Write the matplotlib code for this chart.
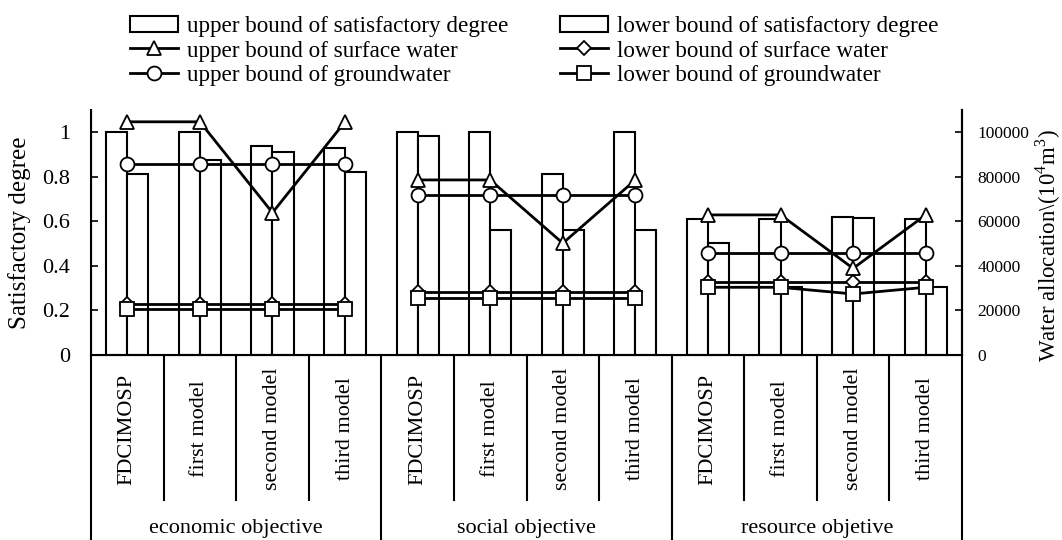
import matplotlib
matplotlib.use("Agg")
import matplotlib.pyplot as plt
import matplotlib.transforms as mtransforms
from matplotlib.patches import Patch
from matplotlib.lines import Line2D
import numpy as np

plt.rcParams['font.family'] = ['Liberation Serif', 'DejaVu Serif']
plt.rcParams['mathtext.fontset'] = 'custom'
plt.rcParams['mathtext.rm'] = 'Liberation Serif'

# data
groups = ['economic objective', 'social objective', 'resource objetive']
models = ['FDCIMOSP', 'first model', 'second model', 'third model']

sat_upper = [1.0, 1.0, 0.94, 0.931,
             1.0, 1.0, 0.811, 1.0,
             0.611, 0.611, 0.621, 0.611]
sat_lower = [0.811, 0.874, 0.913, 0.823,
             0.982, 0.561, 0.561, 0.561,
             0.502, 0.307, 0.614, 0.307]

surface_upper = [104700, 104700, 63900, 104700,
                 78600, 78600, 50200, 78600,
                 62900, 62900, 38900, 62900]
surface_lower = [22900, 22900, 22900, 22900,
                 28400, 28400, 28400, 28400,
                 32900, 32900, 32900, 32900]
ground_upper = [85600, 85600, 85600, 85600,
                71800, 71800, 71800, 71800,
                45700, 45700, 45700, 45700]
ground_lower = [20700, 20700, 20700, 20700,
                25500, 25500, 25500, 25500,
                30400, 30400, 27400, 30400]

fig = plt.figure(figsize=(10.62, 5.40), dpi=100)
ax = fig.add_axes([91 / 1062, 1 - 355 / 540, 871 / 1062, 245 / 540])

x = np.arange(len(sat_upper))
w = 0.29
ax.bar(x - w / 2, sat_upper, width=w, color='white', edgecolor='black', linewidth=1.5)
ax.bar(x + w / 2, sat_lower, width=w, color='white', edgecolor='black', linewidth=1.5)
ax.set_xlim(-0.5, 11.5)
ax.set_ylim(0, 1.1)
ax.set_yticks([0, 0.2, 0.4, 0.6, 0.8, 1.0])
ax.set_yticklabels(['0', '0.2', '0.4', '0.6', '0.8', '1'])
ax.tick_params(axis='y', direction='in', labelsize=16, width=1.2, length=5, pad=15)
ax.set_xticks([])
ax.spines['top'].set_visible(False)
for s in ['left', 'right', 'bottom']:
    ax.spines[s].set_linewidth(1.5)

ax2 = ax.twinx()
ax2.set_ylim(0, 110000)
ax2.set_yticks(range(0, 100001, 20000))
ax2.tick_params(axis='y', direction='in', labelsize=12.5, width=1.2, length=5, pad=11)
ax2.spines['top'].set_visible(False)
ax2.spines['right'].set_linewidth(1.5)

# axis titles
fig.text(20 / 1062, 1 - 232.5 / 540, 'Satisfactory degree', rotation=90,
         ha='center', va='center', fontsize=18)
fig.text(1048 / 1062, 1 - 246 / 540, 'Water allocation\\(10$^4$m$^3$)', rotation=90,
         ha='center', va='center', fontsize=16.5)

series = [
    (surface_upper, '^', 10),
    (surface_lower, 'D', 7),
    (ground_upper, 'o', 10),
    (ground_lower, 's', 10),
]
for vals, mk, ms in series:
    for g in range(3):
        idx = slice(g * 4, g * 4 + 4)
        ax2.plot(x[idx], vals[idx], color='black', lw=2, marker=mk,
                 markersize=ms, markerfacecolor='white',
                 markeredgecolor='black', markeredgewidth=1.3)

# category axis below
trans = mtransforms.blended_transform_factory(ax.transData, ax.transAxes)
for i in range(len(x) + 1):
    xb = i - 0.5
    y0 = -0.755 if i % 4 == 0 else -0.592
    ax.plot([xb, xb], [0, y0], transform=trans, color='black', lw=1.5, clip_on=False)
for i in range(len(x)):
    ax.text(i, -0.302, models[i % 4], transform=trans, rotation=90,
            ha='center', va='center', fontsize=16)
for g in range(3):
    ax.text(g * 4 + 1.5, -0.71, groups[g], transform=trans,
            ha='center', va='center', fontsize=16)

handles = [
    Patch(facecolor='white', edgecolor='black', linewidth=1.5),
    Line2D([], [], color='black', lw=2, marker='^', markersize=10,
           markerfacecolor='white', markeredgewidth=1.3),
    Line2D([], [], color='black', lw=2, marker='o', markersize=10,
           markerfacecolor='white', markeredgewidth=1.3),
    Patch(facecolor='white', edgecolor='black', linewidth=1.5),
    Line2D([], [], color='black', lw=2, marker='D', markersize=7,
           markerfacecolor='white', markeredgewidth=1.3),
    Line2D([], [], color='black', lw=2, marker='s', markersize=10,
           markerfacecolor='white', markeredgewidth=1.3),
]
labels = ['upper bound of satisfactory degree', 'upper bound of surface water',
          'upper bound of groundwater', 'lower bound of satisfactory degree',
          'lower bound of surface water', 'lower bound of groundwater']
fig.legend(handles, labels, ncol=2, loc='center', bbox_to_anchor=(534.5 / 1062, 1 - 51 / 540),
           frameon=False, fontsize=16.7, handlelength=2.07, handletextpad=0.39,
           columnspacing=2.24, labelspacing=0.15, borderpad=0)

fig.savefig('out.png', dpi=100)
